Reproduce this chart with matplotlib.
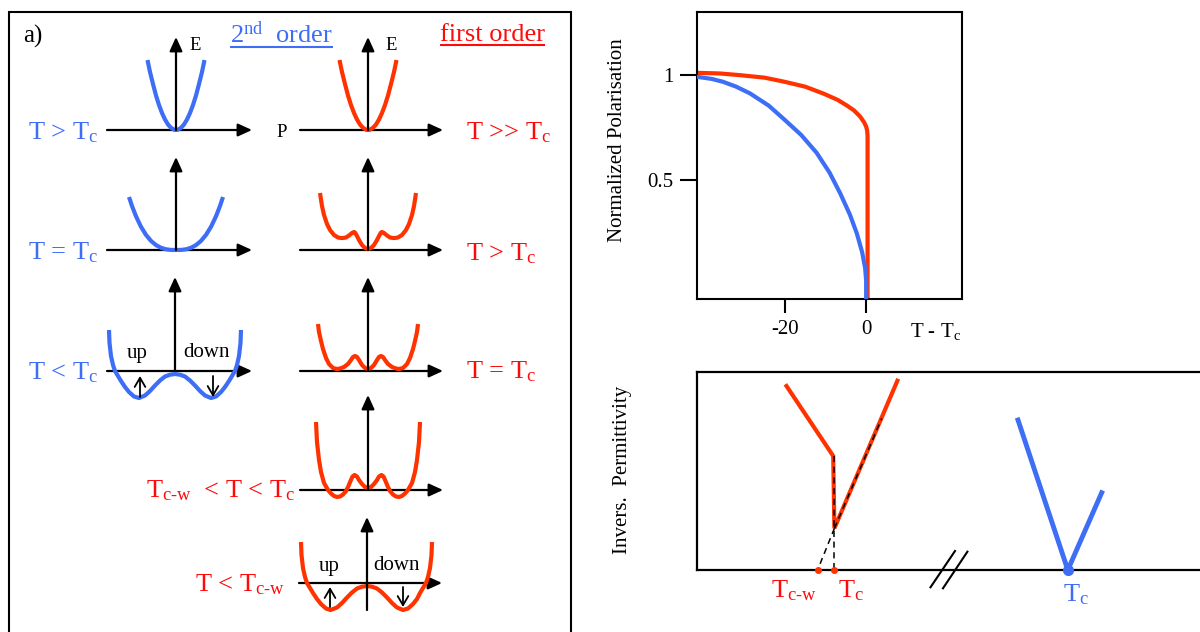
import matplotlib
matplotlib.use('Agg')
import matplotlib.pyplot as plt
import numpy as np
from matplotlib.mathtext import MathTextParser

plt.rcParams['font.family'] = ['Liberation Serif', 'DejaVu Serif']
plt.rcParams['mathtext.fontset'] = 'custom'
plt.rcParams['mathtext.rm'] = 'Liberation Serif'
plt.rcParams['mathtext.it'] = 'Liberation Serif:italic'
plt.rcParams['mathtext.bf'] = 'Liberation Serif:bold'

# ======================= DATA =======================
# Panel a: free-energy sketches E(P) (sketch units)
p_para = [-28.5, -26, -23, -20, -17, -14, -11, -8, -5, -2, 0, 2, 5, 8, 11, 14, 17, 20, 23, 26, 28.5]
e_para = [70, 58, 46, 34.5, 25, 17, 10.5, 5.5, 2.2, 0.3, 0, 0.3, 2.2, 5.5, 10.5, 17, 25, 34.5, 46, 58, 70]

p_2nd_tc = [-47, -44, -40, -35, -30, -25, -20, -15, -10, -5, 0, 5, 10, 15, 20, 25, 30, 35, 40, 44, 47]
e_2nd_tc = [53, 44, 33.7, 23.2, 15.1, 9.1, 4.9, 2.2, 0.7, 0.1, 0, 0.1, 0.7, 2.2, 4.9, 9.1, 15.1, 23.2, 33.7, 44, 53]

p_2nd_low = [-66, -65.5, -64, -62, -60, -57, -54, -50, -46, -41, -36, -30, -25, -20, -15, -10, -5, 0,
             5, 10, 15, 20, 25, 30, 36, 41, 46, 50, 54, 57, 60, 62, 64, 65.5, 66]
e_2nd_low = [41, 28, 15, 6, 0, -5, -10, -16, -21, -25.5, -27, -24.5, -20, -14.5, -9.5, -5.5, -3.7, -3,
             -3.7, -5.5, -9.5, -14.5, -20, -24.5, -27, -25.5, -21, -16, -10, -5, 0, 6, 15, 28, 41]

p_1st_above = [-48, -46, -44, -41, -38, -34, -30, -27, -25, -22, -19, -16, -14, -13, -11, -9, -6, -3, 0,
               3, 6, 9, 11, 13, 14, 16, 19, 22, 25, 27, 30, 34, 38, 41, 44, 46, 48]
e_1st_above = [57, 44, 35, 26, 20, 15, 12.5, 12, 12, 12.5, 14.5, 17, 18, 17.5, 14, 10, 5, 2, 1,
               2, 5, 10, 14, 17.5, 18, 17, 14.5, 12.5, 12, 12, 12.5, 15, 20, 26, 35, 44, 57]

p_1st_tc = [-50, -49, -47, -45, -42, -39, -35, -31, -28, -24, -20, -17, -15, -13, -11, -9, -6, -3, 0,
            3, 6, 9, 11, 13, 15, 17, 20, 24, 28, 31, 35, 39, 42, 45, 47, 49, 50]
e_1st_tc = [47, 39, 30, 22, 13, 7, 3, 2, 2.5, 4, 7, 11, 14, 15, 14, 11, 6, 3, 2,
            3, 6, 11, 14, 15, 14, 11, 7, 4, 2.5, 2, 3, 7, 13, 22, 30, 39, 47]

p_1st_mid = [-52, -51, -49, -47, -44, -40, -37, -34, -31, -28, -25, -22, -19.5, -17.5, -15.5, -13.5, -11, -9, -6, -3, 0,
             3, 6, 9, 11, 13.5, 15.5, 17.5, 19.5, 22, 25, 28, 31, 34, 37, 40, 44, 47, 49, 51, 52]
e_1st_mid = [68, 48, 30, 18, 7, 0, -3.5, -6, -7, -6.5, -4.5, -1, 4, 9, 13.5, 15, 13.5, 10, 6, 3, 2,
             3, 6, 10, 13.5, 15, 13.5, 9, 4, -1, -4.5, -6.5, -7, -6, -3.5, 0, 7, 18, 30, 48, 68]

p_1st_low = [-66, -65.5, -64, -62, -60, -57, -54, -50, -46, -41, -36.5, -30, -25, -20, -15, -10, -5, 0,
             5, 10, 15, 20, 25, 30, 36, 41, 46, 50, 53, 56, 59, 61, 63, 64.5, 65]
e_1st_low = [41, 28, 15, 6, 0, -5, -10, -16, -21, -25.5, -27, -24.5, -20, -14.5, -9.5, -5.5, -3.7, -3,
             -3.7, -5.5, -9.5, -14.5, -20, -24.5, -27, -25.5, -21, -16, -10, -5, 0, 6, 15, 28, 41]

# Panel b: normalized polarisation vs T - Tc
t_second = [-41.6, -38, -35.2, -32, -28.6, -24, -20, -16, -12.2, -9, -6.4, -4, -2.3, -1, -0.25, 0, 0]
pol_second = [0.992, 0.982, 0.968, 0.945, 0.913, 0.855, 0.786, 0.715, 0.630, 0.535, 0.437, 0.335, 0.246,
              0.157, 0.08, 0.02, -0.1]
t_first = [-41.6, -36, -31.1, -25, -20, -15, -10.5, -7, -4.8, -3, -1.5, -0.5, 0, 0.25, 0.35, 0.35]
pol_first = [1.011, 1.008, 1.0, 0.988, 0.968, 0.945, 0.912, 0.882, 0.856, 0.832, 0.803, 0.775, 0.755,
             0.735, 0.71, -0.1]
b_xticks = [-20, 0]
b_xticklabels = ['-20', '0']
b_yticks = [0.5, 1]
b_yticklabels = ['0.5', '1']

# Panel c: inverse permittivity sketch (arbitrary units)
c_first_T = [89.5, 136.2, 137.4, 200.4]
c_first_inv = [184, 114, 41.7, 189.3]
c_second_T = [321, 370.8, 404.7]
c_second_inv = [150, 0, 77.3]
c_Tcw = 120.6
c_Tc1 = 137.4
c_Tc2 = 370.8
c_jump_top = 114
c_jump_bottom = 41.7
c_extrap_end = (184.8, 151.7)

# ======================= STYLE =======================
BLUE = '#3d6ef5'
RED = '#ff3300'
RED_T = '#ff0a0a'
W, H = 1200, 632

fig = plt.figure(figsize=(12, 6.32), dpi=100)
bg = fig.add_axes([0, 0, 1, 1])
bg.set_xlim(0, W)
bg.set_ylim(H, 0)
bg.axis('off')

try:
    MathTextParser('path').parse(r'$_{\mathrm{c}\text{-}\mathrm{w}}$')
    CW = r'$_{\mathrm{c}\text{-}\mathrm{w}}$'
except Exception:
    CW = '$_{\\mathrm{c\u2010w}}$'
TC = r'$_{\mathrm{c}}$'


def arrow(x0, y0, x1, y1, style='-|>,head_length=0.7,head_width=0.32', ms=12, lw=1.6, z=4):
    bg.annotate('', xy=(x1, y1), xytext=(x0, y0),
                arrowprops=dict(arrowstyle=style, mutation_scale=ms, lw=lw, color='k',
                                shrinkA=0, shrinkB=0), zorder=z)


def txt(x, y, s, size, color='k', **kw):
    return bg.text(x, y, s, fontsize=size, color=color, ha=kw.pop('ha', 'left'),
                   va=kw.pop('va', 'baseline'), **kw)


# ---------------- panel a ----------------
bg.plot([9, 9, 571, 571], [660, 12, 12, 660], color='k', lw=1.5, solid_joinstyle='miter')

LX, RX = 176, 368
rows = [130, 250, 371, 490, 583]

def diagram(x0, y0, P, E, color, hx0, hx1, vbot, vtop):
    arrow(hx0, y0, hx1, y0, z=2)
    bg.plot(x0 + np.array(P, float), y0 - np.array(E, float), color=color, lw=3,
            solid_capstyle='butt', solid_joinstyle='round', zorder=3)
    arrow(x0, vbot, x0, vtop, z=4)

diagram(LX, rows[0], p_para, e_para, BLUE, 107, 252, rows[0], 37)
diagram(LX, rows[1], p_2nd_tc, e_2nd_tc, BLUE, 107, 252, rows[1], 157)
diagram(LX - 1, rows[2], p_2nd_low, e_2nd_low, BLUE, 107, 252, rows[2], 277)
diagram(RX, rows[0], p_para, e_para, RED, 300, 443, rows[0], 37)
diagram(RX, rows[1], p_1st_above, e_1st_above, RED, 300, 443, rows[1], 157)
diagram(RX, rows[2], p_1st_tc, e_1st_tc, RED, 300, 443, rows[2], 277)
diagram(RX, rows[3], p_1st_mid, e_1st_mid, RED, 300, 443, rows[3], 395)
diagram(RX - 1, rows[4], p_1st_low, e_1st_low, RED, 299, 442, 610, 517)

# state arrows
st = '->,head_length=0.55,head_width=0.32'
arrow(140, 397, 140, 376, style=st, lw=1.3)
arrow(213, 376, 213, 397, style=st, lw=1.3)
arrow(330, 607, 330, 587, style=st, lw=1.3)
arrow(403, 587, 403, 607, style=st, lw=1.3)

txt(23, 43, 'a)', 18)
txt(189, 50, 'E', 13.5)
txt(385, 50, 'E', 13.5)
txt(276, 137, 'P', 13.5)
t2 = txt(230, 43, r'2$^{\mathrm{nd}}$  order', 19, BLUE)
t1a = txt(440, 41, 'first order', 19, RED_T)

txt(28, 139, 'T > T' + TC, 19, BLUE)
txt(28, 259, 'T = T' + TC, 19, BLUE)
txt(28, 379, 'T < T' + TC, 19, BLUE)
txt(466, 139, 'T >> T' + TC, 19, RED_T)
txt(466, 260, 'T > T' + TC, 19, RED_T)
txt(466, 378, 'T = T' + TC, 19, RED_T)
txt(146, 497, 'T' + CW + '  < T < T' + TC, 19, RED_T)
txt(195, 591, 'T < T' + CW, 19, RED_T)

txt(127, 358, 'up', 15)
txt(183, 357, 'down', 15)
txt(319, 571, 'up', 15)
txt(373, 570, 'down', 15)

# ---------------- panel b ----------------
axb = fig.add_axes([697 / W, 1 - 299 / H, 265 / W, 287 / H])
axb.plot(t_second, pol_second, color=BLUE, lw=3, zorder=3, solid_joinstyle='round')
axb.plot(t_first, pol_first, color=RED, lw=3, zorder=2, solid_joinstyle='round')
axb.set_xlim(-41.65, 23.6)
axb.set_ylim(-0.067, 1.301)
axb.set_xticks(b_xticks)
axb.set_xticklabels(b_xticklabels)
axb.set_yticks(b_yticks)
axb.set_yticklabels(b_yticklabels)
axb.tick_params(axis='y', direction='out', length=12, width=1.5, labelsize=15, pad=5)
axb.tick_params(axis='x', direction='out', length=10, width=1.5, labelsize=15, pad=5)
for s in axb.spines.values():
    s.set_linewidth(1.5)
fig.text(618 / W, 1 - 140.5 / H, 'Normalized Polarisation', rotation=90, ha='center', va='center', fontsize=15)
txt(910, 337, 'T - T' + TC, 15)
txt(714, 44, 'b)', 18)
t1b = txt(837, 45, 'first order', 19, RED_T)
t2b = txt(707, 265, 'second order', 19, BLUE)

# ---------------- panel c ----------------
axc = fig.add_axes([697 / W, 1 - 570 / H, 513 / W, 198 / H])
axc.set_xlim(0, 513)
axc.set_ylim(0, 198)
axc.set_xticks([])
axc.set_yticks([])
for k, s in axc.spines.items():
    s.set_linewidth(1.6)
axc.spines['right'].set_visible(False)
axc.plot(c_first_T, c_first_inv, color=RED, lw=3, solid_joinstyle='miter', zorder=2)
axc.plot(c_second_T, c_second_inv, color=BLUE, lw=3.5, zorder=2)
dash = dict(color='k', lw=1.1, ls=(0, (4, 3)), zorder=3, clip_on=False)
axc.plot([c_Tc1, c_Tc1], [c_jump_top, 0], **dash)
axc.plot([c_Tc1, c_Tcw], [c_jump_bottom, 0], **dash)
axc.plot([c_Tc1, c_extrap_end[0]], [c_jump_bottom, c_extrap_end[1]], **dash)
axc.plot([c_Tcw, c_Tc1], [0, 0], 'o', color=RED, ms=4, zorder=4, clip_on=False)
axc.plot([c_Tc2], [0], 'o', color=BLUE, ms=7, zorder=4, clip_on=False)
axc.plot([233.5, 258], [-17.3, 19], color='k', lw=1.5, clip_on=False)
axc.plot([246, 270.4], [-18.3, 18.3], color='k', lw=1.5, clip_on=False)
fig.text(623 / W, 1 - 470 / H, 'Invers.  Permittivity', rotation=90, ha='center', va='center', fontsize=15)
txt(714, 405, 'c)', 18)
t2c = txt(1057, 405, 'second order', 19, BLUE)
t1c = txt(708, 500, 'first order', 19, RED_T)
txt(771, 597, 'T' + CW, 19, RED_T)
txt(838, 597, 'T' + TC, 19, RED_T)
txt(1063, 601, 'T' + TC, 19, BLUE)

# ---------------- underlines ----------------
fig.canvas.draw()
r = fig.canvas.get_renderer()
for t, col in [(t2, BLUE), (t1a, RED_T), (t1b, RED_T), (t2b, BLUE), (t2c, BLUE), (t1c, RED_T)]:
    bb = t.get_window_extent(r)
    yb = t.get_position()[1] + 3.5
    bg.plot([bb.x0, bb.x1], [yb, yb], color=col, lw=1.5, solid_capstyle='butt')

fig.savefig('out.png', dpi=100)
